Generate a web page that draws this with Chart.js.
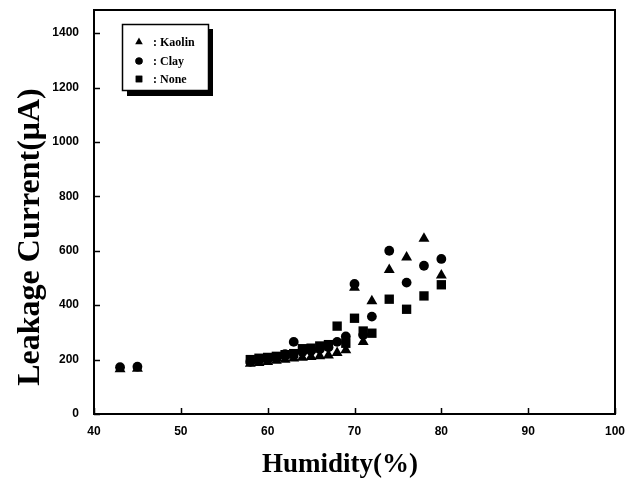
<!DOCTYPE html>
<html>
<head>
<meta charset="utf-8">
<script src="https://cdn.jsdelivr.net/npm/chart.js@4/dist/chart.umd.min.js"></script>
<style>
  html, body { margin: 0; padding: 0; background: #fff; }
  #wrap { width: 629px; height: 488px; }
</style>
</head>
<body>
<div id="wrap"><canvas id="c" width="629" height="488"></canvas></div>
<script>
// Leakage current vs. relative humidity for three filler types
const kaolinHumidity = [43, 45, 58, 59, 60, 61, 62, 63, 64, 65, 66, 67, 68, 69, 70, 71, 72, 74, 76, 78, 80];
const kaolinCurrent  = [165, 167, 185, 188, 192, 196, 200, 205, 207, 210, 213, 216, 225, 235, 465, 265, 415, 530, 576, 645, 510];

const clayHumidity = [43, 45, 58, 59, 60, 61, 62, 63, 64, 65, 66, 67, 68, 69, 70, 71, 72, 74, 76, 78, 80];
const clayCurrent  = [172, 174, 192, 198, 202, 210, 220, 265, 228, 232, 238, 245, 265, 285, 478, 290, 358, 600, 483, 545, 570];

const noneHumidity = [58, 59, 60, 61, 62, 63, 64, 65, 66, 67, 68, 69, 70, 71, 72, 74, 76, 78, 80];
const noneCurrent  = [200, 205, 208, 212, 218, 222, 240, 242, 250, 255, 323, 260, 352, 305, 297, 422, 385, 434, 475];

const xTickValues = [40, 50, 60, 70, 80, 90, 100];
const yTickValues = [0, 200, 400, 600, 800, 1000, 1200, 1400];

const seriesNames = ['Kaolin', 'Clay', 'None'];
const xTitle = 'Humidity(%)';
const yTitle = 'Leakage Current(μA)';

function toPoints(xs, ys) {
  return xs.map((x, i) => ({ x: x, y: ys[i] }));
}

const tickFont = { family: 'Liberation Sans', weight: 'bold', size: 12 };

// Frame: top/right border and inward tick marks on the bottom and left axes
const framePlugin = {
  id: 'frame',
  afterDraw(chart) {
    const { ctx, chartArea: a, scales } = chart;
    ctx.save();
    ctx.strokeStyle = '#000';
    ctx.lineWidth = 2;
    ctx.beginPath();
    ctx.moveTo(a.left, a.top);
    ctx.lineTo(a.right, a.top);
    ctx.lineTo(a.right, a.bottom);
    ctx.stroke();
    ctx.lineWidth = 1.5;
    ctx.beginPath();
    scales.x.ticks.forEach(t => {
      const px = Math.round(scales.x.getPixelForValue(t.value)) + 0.5;
      ctx.moveTo(px, a.bottom);
      ctx.lineTo(px, a.bottom - 6);
    });
    scales.y.ticks.forEach(t => {
      const py = Math.round(scales.y.getPixelForValue(t.value)) + 0.5;
      ctx.moveTo(a.left, py);
      ctx.lineTo(a.left + 6, py);
    });
    ctx.stroke();
    ctx.restore();
  }
};

// Axis titles in a heavy serif face
const axisTitlePlugin = {
  id: 'axisTitles',
  afterDraw(chart) {
    const { ctx } = chart;
    ctx.save();
    ctx.fillStyle = '#000';
    ctx.textAlign = 'center';
    ctx.textBaseline = 'middle';
    ctx.font = 'bold 27px "Liberation Serif"';
    ctx.fillText(xTitle, 340, 465);
    ctx.translate(31, 237);
    ctx.rotate(-Math.PI / 2);
    ctx.font = 'bold 32px "Liberation Serif"';
    ctx.fillText(yTitle, 0, 0);
    ctx.restore();
  }
};

// Boxed legend with a drop shadow, placed in the upper-left of the plot
const boxLegendPlugin = {
  id: 'boxLegend',
  afterDraw(chart) {
    const { ctx } = chart;
    const x0 = 122, y0 = 24, w = 86, h = 66;
    ctx.save();
    ctx.fillStyle = '#000';
    ctx.fillRect(x0 + 5, y0 + 5, w, h + 1);
    ctx.fillStyle = '#fff';
    ctx.fillRect(x0, y0, w, h);
    ctx.strokeStyle = '#000';
    ctx.lineWidth = 1.5;
    ctx.strokeRect(x0 + 0.5, y0 + 0.5, w, h);
    ctx.font = 'bold 12px "Liberation Serif"';
    ctx.textBaseline = 'middle';
    ctx.textAlign = 'left';
    const rows = [42, 61, 79];
    chart.data.datasets.forEach((ds, i) => {
      const y = rows[i];
      Chart.helpers.drawPoint(ctx, {
        pointStyle: ds.pointStyle,
        radius: ds.pointStyle === 'rect' ? 4.6 : (ds.pointStyle === 'triangle' ? 4.4 : 3.6),
        borderWidth: 0,
        rotation: 0
      }, 139, y);
      ctx.fillStyle = '#000';
      ctx.fill();
      ctx.fillText(': ' + ds.label, 153, y + 1);
    });
    ctx.restore();
  }
};

const common = {
  backgroundColor: '#000',
  borderColor: '#000',
  borderWidth: 0,
  showLine: false
};

new Chart(document.getElementById('c'), {
  type: 'scatter',
  data: {
    datasets: [
      Object.assign({ label: seriesNames[0], data: toPoints(kaolinHumidity, kaolinCurrent), pointStyle: 'triangle', pointRadius: 6.3 }, common),
      Object.assign({ label: seriesNames[1], data: toPoints(clayHumidity, clayCurrent), pointStyle: 'circle', pointRadius: 4.9 }, common),
      Object.assign({ label: seriesNames[2], data: toPoints(noneHumidity, noneCurrent), pointStyle: 'rect', pointRadius: 6.6 }, common)
    ]
  },
  options: {
    responsive: false,
    animation: false,
    devicePixelRatio: 1,
    layout: { padding: { left: 0, right: 14, top: 10, bottom: 0 } },
    plugins: {
      legend: { display: false },
      tooltip: { enabled: false }
    },
    scales: {
      x: {
        type: 'linear',
        position: 'bottom',
        min: 40,
        max: 100,
        afterBuildTicks: s => { s.ticks = xTickValues.map(v => ({ value: v })); },
        afterFit: s => { s.height = 74; s.paddingLeft = 0; s.paddingRight = 0; },
        ticks: {
          font: tickFont,
          color: '#000',
          padding: 10,
          maxRotation: 0,
          autoSkip: false,
          callback: v => String(v)
        },
        grid: { display: false, drawTicks: false },
        border: { display: true, color: '#000', width: 2 },
        title: { display: false }
      },
      y: {
        type: 'linear',
        position: 'left',
        min: 0,
        max: 1485,
        afterBuildTicks: s => { s.ticks = yTickValues.map(v => ({ value: v })); },
        afterFit: s => { s.width = 94; s.paddingTop = 0; s.paddingBottom = 0; },
        ticks: {
          font: tickFont,
          color: '#000',
          padding: 15,
          autoSkip: false,
          callback: v => String(v)
        },
        grid: { display: false, drawTicks: false },
        border: { display: true, color: '#000', width: 2 },
        title: { display: false }
      }
    }
  },
  plugins: [framePlugin, axisTitlePlugin, boxLegendPlugin]
});
</script>
</body>
</html>
